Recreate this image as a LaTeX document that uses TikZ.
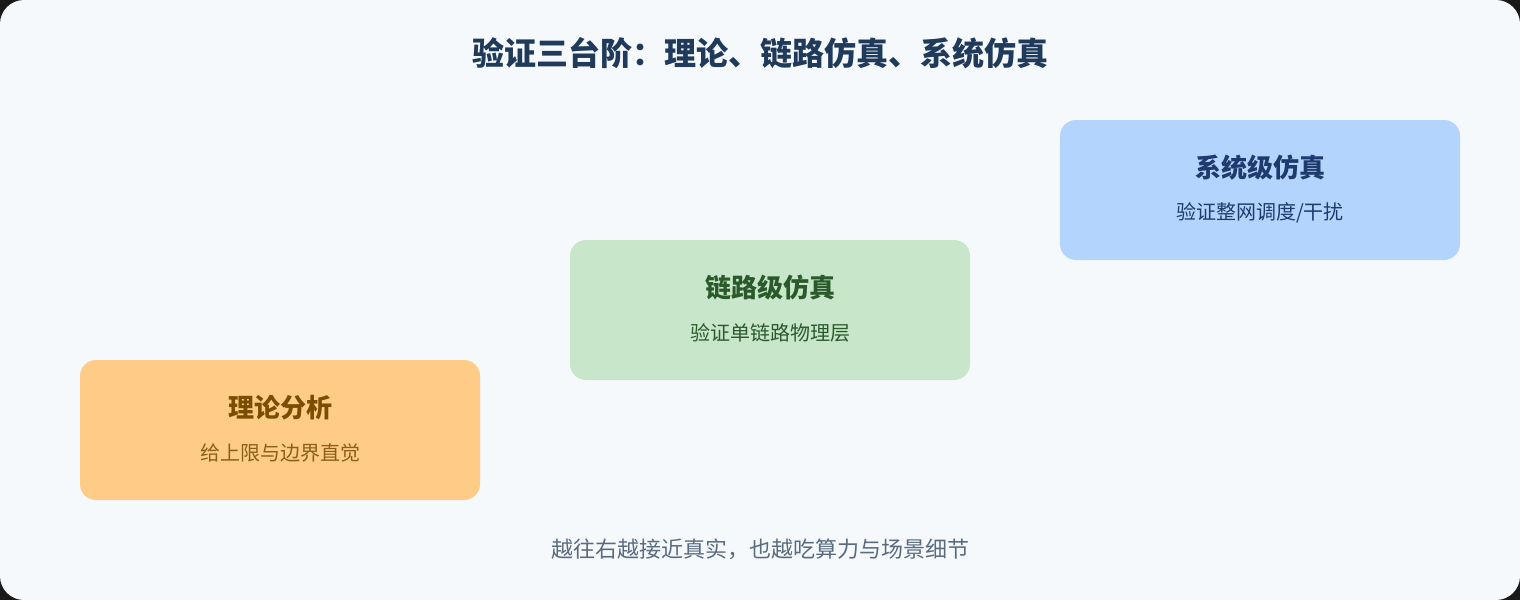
\documentclass[tikz,border=0pt]{standalone}
\usepackage{fontspec}
\setmainfont{Noto Sans CJK SC}
\newfontfamily\cjk{Noto Sans CJK SC}
\definecolor{bgc}{HTML}{F5F9FC}
\definecolor{titlec}{HTML}{1F3A5A}
\definecolor{orfill}{HTML}{FFCC88}
\definecolor{ortext}{HTML}{7A4E00}
\definecolor{grfill}{HTML}{C8E6C9}
\definecolor{grtext}{HTML}{2A5A2C}
\definecolor{blfill}{HTML}{B3D4FC}
\definecolor{bltext}{HTML}{1E3A6E}
\definecolor{notec}{HTML}{5A6B80}
\tikzset{
  stagebox/.style={rounded corners=16pt, minimum width=400pt, minimum height=140pt, inner sep=0pt, draw=none},
  stagetitle/.style={font=\cjk\bfseries\fontsize{26pt}{30pt}\selectfont, inner sep=0pt},
  stagesub/.style={font=\cjk\fontsize{20pt}{24pt}\selectfont, inner sep=0pt},
}
\begin{document}
\begin{tikzpicture}[x=1pt,y=-1pt]
\useasboundingbox (0,0) rectangle (1520,600);
\fill[black!90] (0,0) rectangle (1520,600);
\fill[bgc, rounded corners=24pt] (0,0) rectangle (1520,600);
\node[font=\cjk\bfseries\fontsize{32pt}{36pt}\selectfont, text=titlec, inner sep=0pt] (title) at (760,53) {验证三台阶：理论、链路仿真、系统仿真};
% theory
\node[stagebox, fill=orfill] (theory) at (280,430) {};
\node[stagetitle, text=ortext] (theoryT) at (280,408) {理论分析};
\node[stagesub, text=ortext!90] (theoryS) at (280,453) {给上限与边界直觉};
% link
\node[stagebox, fill=grfill] (link) at (770,310) {};
\node[stagetitle, text=grtext] (linkT) at (770,288) {链路级仿真};
\node[stagesub, text=grtext] (linkS) at (770,333) {验证单链路物理层};
% system
\node[stagebox, fill=blfill] (sys) at (1260,190) {};
\node[stagetitle, text=bltext] (sysT) at (1260,168) {系统级仿真};
\node[stagesub, text=bltext] (sysS) at (1260,213) {验证整网调度/干扰};
\node[font=\cjk\fontsize{22pt}{26pt}\selectfont, text=notec, inner sep=0pt] (note) at (760,549) {越往右越接近真实，也越吃算力与场景细节};
\end{tikzpicture}
\end{document}
